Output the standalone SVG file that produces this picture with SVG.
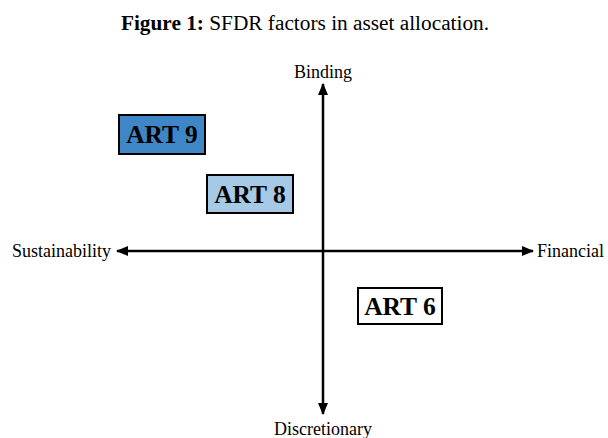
<svg xmlns="http://www.w3.org/2000/svg" width="608" height="438" viewBox="0 0 608 438">
<style>
text{font-family:"Liberation Serif","Times New Roman",serif;fill:#000}
.lbl{font-size:18px}
.box{stroke:#000;stroke-width:2}
.art{font-size:25.5px;font-weight:bold;text-anchor:middle}
.ax{stroke:#000;stroke-width:2.5;fill:none}
</style>
<defs>
<marker id="ah" viewBox="0 0 12 10" refX="11" refY="5" markerWidth="12" markerHeight="10" markerUnits="userSpaceOnUse" orient="auto-start-reverse">
<path d="M0,0 L12,5 L0,10 Z" fill="#000"/>
</marker>
</defs>
<rect width="608" height="438" fill="#fff"/>
<text x="305" y="30" text-anchor="middle" font-size="21.3"><tspan font-weight="bold">Figure 1:</tspan> SFDR factors in asset allocation.</text>
<g id="connectors">
<line class="ax" x1="323" y1="84" x2="323" y2="414" marker-start="url(#ah)" marker-end="url(#ah)"/>
<line class="ax" x1="117" y1="251" x2="533" y2="251" marker-start="url(#ah)" marker-end="url(#ah)"/>
</g>
<g id="binding"><text class="lbl" x="323" y="78" text-anchor="middle">Binding</text></g>
<g id="discretionary"><text class="lbl" x="323" y="435" text-anchor="middle">Discretionary</text></g>
<g id="sustainability"><text class="lbl" x="111" y="257" text-anchor="end">Sustainability</text></g>
<g id="financial"><text class="lbl" x="537" y="257">Financial</text></g>
<g id="art9"><rect class="box" x="119" y="115" width="86" height="39" fill="#3F86C6"/><text class="art" x="162" y="143">ART 9</text></g>
<g id="art8"><rect class="box" x="207" y="175" width="86" height="38" fill="#A6C9E5"/><text class="art" x="250" y="203">ART 8</text></g>
<g id="art6"><rect class="box" x="358" y="288" width="84" height="36" fill="#fff"/><text class="art" x="400" y="315">ART 6</text></g>
</svg>
